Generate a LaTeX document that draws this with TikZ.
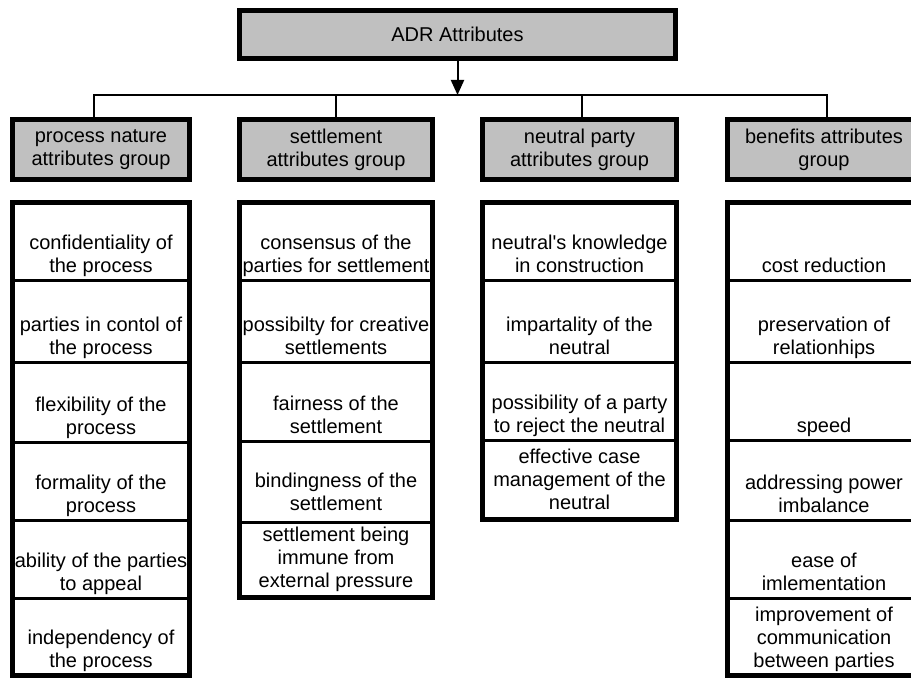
\documentclass[tikz,border=0pt]{standalone}
\usepackage{fontspec}
\setmainfont{Liberation Sans}
\usetikzlibrary{arrows.meta, positioning, fit}

\definecolor{headgray}{RGB}{192,192,192}
% cell text sits at the bottom of a box of given width and height
\newcommand{\cellbox}[4][8bp]{\parbox[c][#3][b]{#2}{\centering #4\rule[-#1]{0pt}{#1}\par\kern0pt}}

\begin{document}
\begin{tikzpicture}[
    x=1bp, y=-1bp,
    every node/.style={font=\fontsize{20bp}{23bp}\selectfont},
    topbox/.style={rectangle, draw, line width=5bp, fill=headgray,
                   minimum width=436bp, minimum height=48bp},
    head/.style={rectangle, draw, line width=5bp, fill=headgray,
                 minimum height=60bp, align=center, inner sep=0pt},
    cell/.style={rectangle, draw, line width=3bp, inner sep=0pt, outer sep=0pt, fill=white},
    frame/.style={rectangle, draw, line width=5bp, inner sep=0pt},
    link/.style={line width=1.3bp},
    arrow/.style={-{Triangle[width=13bp, length=15bp]}, line width=2bp}
]
\useasboundingbox (0,0) rectangle (911,679);

% Top: ADR attributes
\node[topbox] (adr) at (457.5,34.5) {ADR Attributes};

% Group headers
\node[head, minimum width=177bp] (pn) at (101,149.5) {process nature\\attributes group};
\node[head, minimum width=193bp] (se) at (336,149.5) {settlement\\attributes group};
\node[head, minimum width=194bp] (np) at (579.5,149.5) {neutral party\\attributes group};
\node[head, minimum width=193bp] (bn) at (824,149.5) {benefits attributes\\group};

% Process nature attributes
\node[cell, below=20.5bp of pn] (c11) {\cellbox{177bp}{77.5bp}{confidentiality of\\the process}};
\node[cell, below=0pt of c11] (c12) {\cellbox{177bp}{82bp}{parties in contol of\\the process}};
\node[cell, below=0pt of c12] (c13) {\cellbox{177bp}{80bp}{flexibility of the\\process}};
\node[cell, below=0pt of c13] (c14) {\cellbox{177bp}{78bp}{formality of the\\process}};
\node[cell, below=0pt of c14] (c15) {\cellbox{177bp}{78bp}{ability of the parties\\to appeal}};
\node[cell, below=0pt of c15] (c16) {\cellbox{177bp}{77.5bp}{independency of\\the process}};
\node[frame, fit=(c11)(c16)] (f1) {};

% Settlement attributes
\node[cell, below=20.5bp of se] (c21) {\cellbox{193bp}{77.5bp}{consensus of the\\parties for settlement}};
\node[cell, below=0pt of c21] (c22) {\cellbox{193bp}{82bp}{possibilty for creative\\settlements}};
\node[cell, below=0pt of c22] (c23) {\cellbox{193bp}{79bp}{fairness of the\\settlement}};
\node[cell, below=0pt of c23] (c24) {\cellbox[12bp]{193bp}{81bp}{bindingness of the\\settlement}};
\node[cell, below=0pt of c24] (c25) {\cellbox[10bp]{193bp}{75.5bp}{settlement being\\immune from\\external pressure}};
\node[frame, fit=(c21)(c25)] (f2) {};

% Neutral party attributes
\node[cell, below=20.5bp of np] (c31) {\cellbox{194bp}{77.5bp}{neutral\textquotesingle s knowledge\\in construction}};
\node[cell, below=0pt of c31] (c32) {\cellbox{194bp}{82bp}{impartality of the\\neutral}};
\node[cell, below=0pt of c32] (c33) {\cellbox{194bp}{78bp}{possibility of a party\\to reject the neutral}};
\node[cell, below=0pt of c33] (c34) {\cellbox[10bp]{194bp}{79.5bp}{effective case\\management of the\\neutral}};
\node[frame, fit=(c31)(c34)] (f3) {};

% Benefits attributes
\node[cell, below=20.5bp of bn] (c41) {\cellbox{193bp}{77.5bp}{cost reduction}};
\node[cell, below=0pt of c41] (c42) {\cellbox{193bp}{82bp}{preservation of\\relationhips}};
\node[cell, below=0pt of c42] (c43) {\cellbox{193bp}{78bp}{speed}};
\node[cell, below=0pt of c43] (c44) {\cellbox{193bp}{80bp}{addressing power\\imbalance}};
\node[cell, below=0pt of c44] (c45) {\cellbox{193bp}{78bp}{ease of\\imlementation}};
\node[cell, below=0pt of c45] (c46) {\cellbox{193bp}{77.5bp}{improvement of\\communication\\between parties}};
\node[frame, fit=(c41)(c46)] (f4) {};

% Connectors
\coordinate (hub) at (457.5,95);
\draw[arrow] (adr.south) -- (hub);
\draw[link] ([xshift=-7bp]pn.north) |- (hub) -| ([xshift=3bp]bn.north);
\draw[link] (se.north) -- (se.north |- hub);
\draw[link] ([xshift=2.5bp]np.north) -- ([xshift=2.5bp]np.north |- hub);

\end{tikzpicture}
\end{document}
